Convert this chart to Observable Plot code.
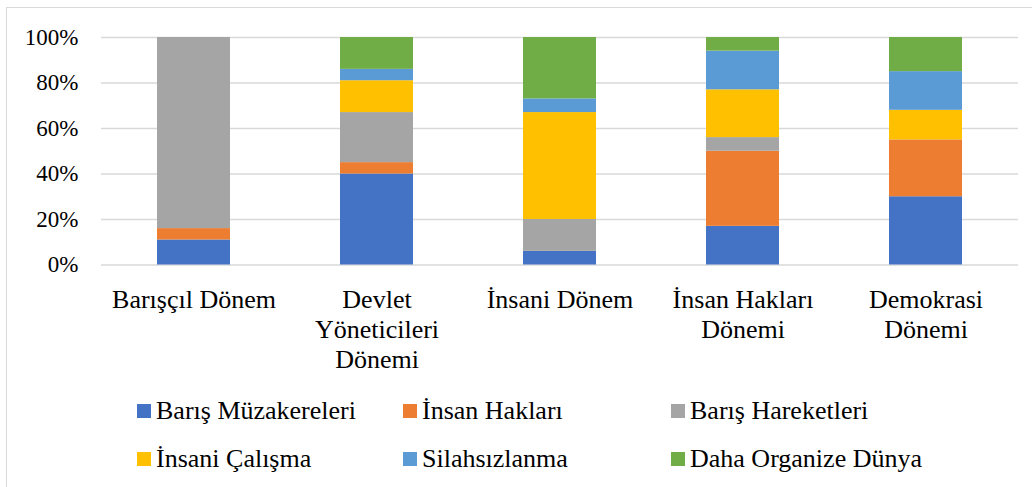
<!DOCTYPE html>
<html>
<head>
<meta charset="utf-8">
<script src="https://cdn.jsdelivr.net/npm/d3@7"></script>
<script src="https://cdn.jsdelivr.net/npm/@observablehq/plot@0.6"></script>
<style>
  html, body { margin: 0; padding: 0; background: #fff; }
  #wrap { position: relative; width: 1032px; height: 487px; overflow: hidden; font-family: 'Liberation Serif', 'Times New Roman', Times, 'DejaVu Serif', serif; }
  #frame { position: absolute; left: 6px; top: 7px; right: -10px; bottom: -10px; border-left: 1.5px solid #d9d9d9; border-top: 1.5px solid #d9d9d9; }
  #chart { position: absolute; left: 0; top: 0; }
  #chart svg, #chart svg text { font-family: 'Liberation Serif', 'Times New Roman', Times, 'DejaVu Serif', serif !important; }
  #legend { position: absolute; left: 0; top: 0; width: 1032px; height: 487px; pointer-events: none; }
  .li { position: absolute; display: flex; align-items: center; font-size: 26px; color: #000; white-space: nowrap; }
  .sw { width: 14px; height: 14px; margin-right: 5px; }
</style>
</head>
<body>
<div id="wrap">
  <div id="frame"></div>
  <div id="chart"></div>
  <div id="legend"></div>
</div>
<script>
const categories = ["Barışçıl Dönem", "Devlet Yöneticileri Dönemi", "İnsani Dönem", "İnsan Hakları Dönemi", "Demokrasi Dönemi"];
const tickLabels = ["Barışçıl Dönem", "Devlet\nYöneticileri\nDönemi", "İnsani Dönem", "İnsan Hakları\nDönemi", "Demokrasi\nDönemi"];
const seriesNames = ["Barış Müzakereleri", "İnsan Hakları", "Barış Hareketleri", "İnsani Çalışma", "Silahsızlanma", "Daha Organize Dünya"];
const seriesColors = ["#4472C4", "#ED7D31", "#A5A5A5", "#FFC000", "#5B9BD5", "#70AD47"];
const barisMuzakereleri = [11, 40, 6, 17, 30];
const insanHaklari = [5, 5, 0, 33, 25];
const barisHareketleri = [84, 22, 14, 6, 0];
const insaniCalisma = [0, 14, 47, 21, 13];
const silahsizlanma = [0, 5, 6, 17, 17];
const dahaOrganizeDunya = [0, 14, 27, 6, 15];
const yTicks = [0, 20, 40, 60, 80, 100];

const seriesValues = [barisMuzakereleri, insanHaklari, barisHareketleri, insaniCalisma, silahsizlanma, dahaOrganizeDunya];
const data = [];
seriesNames.forEach((s, i) => {
  categories.forEach((c, j) => {
    data.push({ category: c, series: s, value: seriesValues[i][j] });
  });
});

const labelOf = new Map(categories.map((c, i) => [c, tickLabels[i]]));

const chart = Plot.plot({
  width: 1032,
  height: 380,
  marginLeft: 101,
  marginRight: 14,
  marginTop: 37,
  marginBottom: 115.5,
  style: { fontFamily: "'Liberation Serif', 'Times New Roman', serif", background: "transparent", overflow: "visible" },
  x: { domain: categories, paddingInner: 0.6, paddingOuter: 0.3, label: null },
  y: { domain: [0, 100], label: null },
  color: { domain: seriesNames, range: seriesColors },
  marks: [
    Plot.ruleY(yTicks, { stroke: "#d9d9d9", strokeWidth: 1.5 }),
    Plot.barY(data, Plot.stackY({ x: "category", y: "value", fill: "series", z: "series", order: null, inset: 0 })),
    Plot.axisY(yTicks, { tickSize: 0, tickPadding: 23, tickFormat: d => d + "%", fontSize: 23, fill: "#000", label: null }),
    Plot.axisX({ tickSize: 0, tickPadding: 22, tickFormat: d => labelOf.get(d), fontSize: 26, lineHeight: 1.154, fill: "#000", label: null })
  ]
});
document.getElementById("chart").appendChild(chart);

const legendPos = [
  [137, 411], [403, 411], [671, 411],
  [137, 459], [403, 459], [671, 459]
];
const legend = document.getElementById("legend");
seriesNames.forEach((s, i) => {
  const item = document.createElement("div");
  item.className = "li";
  item.style.left = legendPos[i][0] + "px";
  item.style.top = (legendPos[i][1] - 16) + "px";
  item.style.height = "32px";
  const sw = document.createElement("span");
  sw.className = "sw";
  sw.style.background = seriesColors[i];
  const tx = document.createElement("span");
  tx.textContent = s;
  item.appendChild(sw);
  item.appendChild(tx);
  legend.appendChild(item);
});
</script>
</body>
</html>
